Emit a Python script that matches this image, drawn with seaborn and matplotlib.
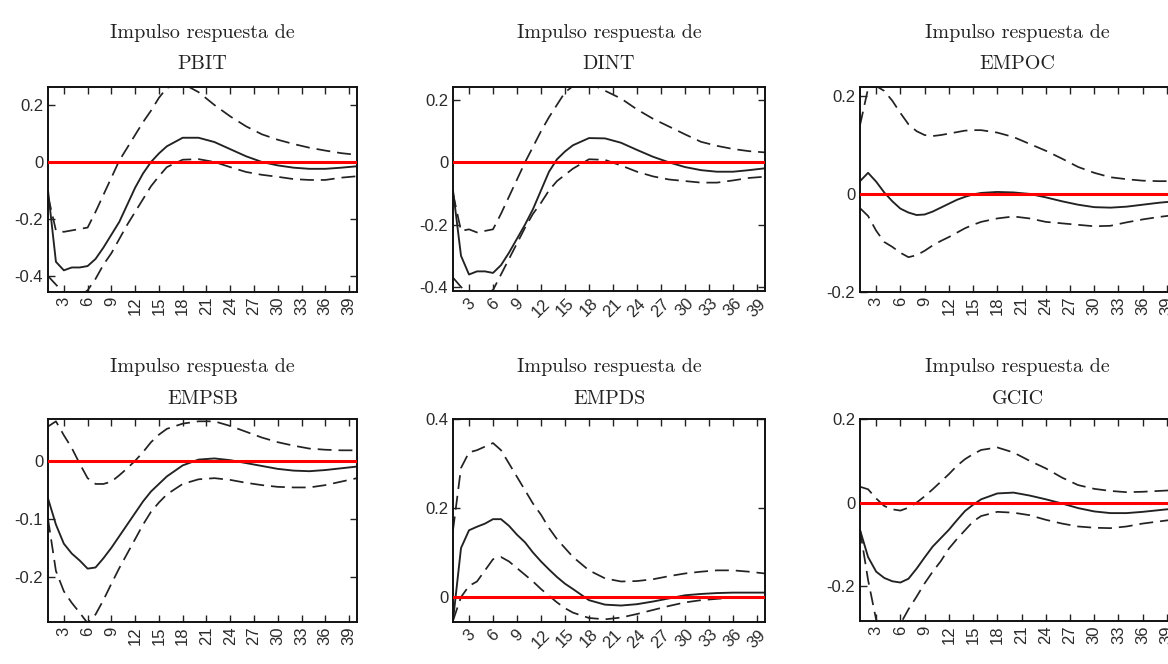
import matplotlib
matplotlib.use("Agg")
import matplotlib.pyplot as plt
import seaborn as sns
import pandas as pd

# ---------------- data ----------------
horizons = [1, 2, 3, 4, 5, 6, 7, 8, 9, 10, 11, 12, 13, 14, 15, 16,
            18, 20, 22, 24, 26, 28, 30, 32, 34, 36, 38, 40]

variables = ["PBIT", "DINT", "EMPOC", "EMPSB", "EMPDS", "GCIC"]

pbit_resp = [-0.10, -0.35, -0.38, -0.37, -0.37, -0.365, -0.34, -0.30, -0.255, -0.21, -0.15, -0.09, -0.04, 0.0,
             0.03, 0.055, 0.085, 0.085, 0.07, 0.045, 0.02, 0.0, -0.012, -0.02, -0.024, -0.024, -0.02, -0.015]
pbit_up = [-0.12, -0.24, -0.245, -0.24, -0.235, -0.23, -0.175, -0.115, -0.055, 0.005, 0.05, 0.095, 0.14, 0.18,
           0.225, 0.26, 0.275, 0.245, 0.20, 0.16, 0.125, 0.097, 0.078, 0.063, 0.05, 0.04, 0.031, 0.025]
pbit_lo = [-0.40, -0.43, -0.46, -0.47, -0.47, -0.45, -0.41, -0.36, -0.32, -0.27, -0.22, -0.175, -0.13, -0.085,
           -0.05, -0.018, 0.008, 0.01, 0.0, -0.018, -0.035, -0.045, -0.052, -0.06, -0.063, -0.063, -0.055, -0.05]

dint_resp = [-0.09, -0.30, -0.36, -0.35, -0.35, -0.355, -0.33, -0.29, -0.245, -0.20, -0.15, -0.09, -0.03, 0.01,
             0.035, 0.055, 0.078, 0.077, 0.063, 0.04, 0.018, 0.0, -0.015, -0.025, -0.03, -0.03, -0.025, -0.019]
dint_up = [-0.10, -0.22, -0.215, -0.225, -0.22, -0.215, -0.165, -0.11, -0.055, 0.0, 0.05, 0.10, 0.145, 0.185,
           0.225, 0.245, 0.255, 0.23, 0.205, 0.17, 0.14, 0.115, 0.09, 0.066, 0.053, 0.043, 0.036, 0.032]
dint_lo = [-0.37, -0.40, -0.42, -0.42, -0.42, -0.41, -0.36, -0.31, -0.26, -0.21, -0.165, -0.13, -0.09, -0.06,
           -0.04, -0.02, 0.01, 0.008, -0.01, -0.03, -0.045, -0.055, -0.06, -0.065, -0.065, -0.058, -0.05, -0.046]

empoc_resp = [0.026, 0.043, 0.025, 0.003, -0.015, -0.03, -0.038, -0.043, -0.042, -0.036, -0.028, -0.02, -0.012, -0.006,
              -0.001, 0.002, 0.004, 0.003, 0.0, -0.007, -0.015, -0.022, -0.027, -0.028, -0.026, -0.022, -0.018, -0.015]
empoc_up = [0.14, 0.215, 0.22, 0.21, 0.19, 0.165, 0.142, 0.128, 0.12, 0.118, 0.12, 0.123, 0.126, 0.129,
            0.13, 0.13, 0.125, 0.116, 0.102, 0.088, 0.072, 0.055, 0.043, 0.034, 0.03, 0.027, 0.026, 0.026]
empoc_lo = [-0.029, -0.045, -0.075, -0.098, -0.108, -0.12, -0.129, -0.125, -0.116, -0.105, -0.096, -0.088, -0.079, -0.07,
            -0.063, -0.057, -0.05, -0.046, -0.05, -0.057, -0.06, -0.063, -0.066, -0.065, -0.058, -0.052, -0.047, -0.043]

empsb_resp = [-0.065, -0.11, -0.143, -0.16, -0.172, -0.186, -0.184, -0.168, -0.15, -0.13, -0.11, -0.09, -0.07, -0.053,
              -0.04, -0.027, -0.008, 0.002, 0.004, 0.001, -0.004, -0.009, -0.014, -0.017, -0.018, -0.016, -0.013, -0.01]
empsb_up = [0.059, 0.068, 0.044, 0.022, -0.005, -0.03, -0.04, -0.04, -0.036, -0.025, -0.013, 0.0, 0.015, 0.032,
            0.045, 0.055, 0.064, 0.068, 0.068, 0.06, 0.05, 0.04, 0.032, 0.026, 0.021, 0.019, 0.018, 0.018]
empsb_lo = [-0.10, -0.19, -0.225, -0.245, -0.262, -0.28, -0.265, -0.24, -0.212, -0.185, -0.16, -0.135, -0.11, -0.088,
            -0.072, -0.058, -0.04, -0.032, -0.03, -0.033, -0.038, -0.042, -0.045, -0.046, -0.046, -0.042, -0.036, -0.03]

empds_resp = [-0.053, 0.11, 0.15, 0.158, 0.165, 0.175, 0.175, 0.16, 0.14, 0.123, 0.10, 0.08, 0.062, 0.045,
              0.03, 0.018, -0.007, -0.017, -0.019, -0.016, -0.01, -0.003, 0.004, 0.007, 0.009, 0.01, 0.01, 0.01]
empds_up = [0.15, 0.29, 0.325, 0.33, 0.338, 0.346, 0.33, 0.30, 0.27, 0.24, 0.21, 0.185, 0.155, 0.13,
            0.11, 0.09, 0.06, 0.042, 0.035, 0.036, 0.04, 0.047, 0.053, 0.057, 0.06, 0.06, 0.057, 0.053]
empds_lo = [-0.053, 0.0, 0.025, 0.035, 0.06, 0.085, 0.09, 0.08, 0.065, 0.05, 0.035, 0.018, 0.003, -0.012,
            -0.025, -0.035, -0.047, -0.05, -0.046, -0.038, -0.029, -0.02, -0.012, -0.007, -0.004, -0.001, 0.0, 0.0]

gcic_resp = [-0.065, -0.13, -0.165, -0.18, -0.188, -0.191, -0.182, -0.158, -0.131, -0.105, -0.085, -0.065, -0.042, -0.02,
             -0.005, 0.008, 0.022, 0.024, 0.017, 0.008, -0.002, -0.013, -0.021, -0.025, -0.025, -0.022, -0.018, -0.014]
gcic_up = [0.038, 0.032, 0.01, -0.008, -0.016, -0.019, -0.012, 0.0, 0.015, 0.032, 0.05, 0.068, 0.088, 0.104,
           0.116, 0.126, 0.132, 0.12, 0.10, 0.082, 0.06, 0.042, 0.033, 0.028, 0.025, 0.026, 0.028, 0.03]
gcic_lo = [-0.065, -0.185, -0.28, -0.30, -0.30, -0.29, -0.255, -0.225, -0.193, -0.165, -0.14, -0.11, -0.087, -0.066,
           -0.045, -0.032, -0.022, -0.024, -0.03, -0.041, -0.05, -0.057, -0.06, -0.061, -0.057, -0.05, -0.045, -0.04]

responses = [pbit_resp, dint_resp, empoc_resp, empsb_resp, empds_resp, gcic_resp]
uppers = [pbit_up, dint_up, empoc_up, empsb_up, empds_up, gcic_up]
lowers = [pbit_lo, dint_lo, empoc_lo, empsb_lo, empds_lo, gcic_lo]

x_ticks = [3, 6, 9, 12, 15, 18, 21, 24, 27, 30, 33, 36, 39]
x_tick_labels = [str(t) for t in x_ticks]

y_ticks = [[0.2, 0, -0.2, -0.4], [0.2, 0, -0.2, -0.4], [0.2, 0, -0.2],
           [0, -0.1, -0.2], [0.4, 0.2, 0], [0.2, 0, -0.2]]
y_tick_labels = [["0.2", "0", "-0.2", "-0.4"], ["0.2", "0", "-0.2", "-0.4"], ["0.2", "0", "-0.2"],
                 ["0", "-0.1", "-0.2"], ["0.4", "0.2", "0"], ["0.2", "0", "-0.2"]]
y_limits = [(-0.456, 0.263), (-0.413, 0.242), (-0.2, 0.218),
            (-0.278, 0.072), (-0.056, 0.4), (-0.283, 0.2)]

# ---------------- style ----------------
sns.set_style("ticks")
plt.rcParams["font.family"] = ["Liberation Sans", "DejaVu Sans"]
plt.rcParams["axes.unicode_minus"] = False

W, H = 1168, 664
fig = plt.figure(figsize=(W / 100, H / 100), dpi=100)

# axes boxes in pixels: (left, top, right, bottom)
boxes = [(48, 87, 357, 292), (453, 87, 765, 291), (860, 87, 1175, 292),
         (48, 419, 357, 622), (453, 419, 765, 622), (860, 419, 1175, 621)]

for i, var in enumerate(variables):
    l, t, r, b = boxes[i]
    ax = fig.add_axes([l / W, 1 - b / H, (r - l) / W, (b - t) / H])
    df = pd.DataFrame({"h": horizons, "resp": responses[i],
                       "up": uppers[i], "lo": lowers[i]})
    sns.lineplot(data=df, x="h", y="up", ax=ax, color="#222222", lw=1.25,
                 linestyle=(0, (8, 4)))
    sns.lineplot(data=df, x="h", y="lo", ax=ax, color="#222222", lw=1.25,
                 linestyle=(0, (8, 4)))
    sns.lineplot(data=df, x="h", y="resp", ax=ax, color="#222222", lw=1.35)
    ax.axhline(0, color="#ff0000", lw=2.2, zorder=5)

    ax.set_xlim(1, 40)
    ax.set_ylim(*y_limits[i])
    ax.set_xticks(x_ticks)
    rot = 45 if i % 3 == 1 else 90
    ax.set_xticklabels(x_tick_labels, rotation=rot, fontsize=12)
    ax.set_yticks(y_ticks[i])
    ax.set_yticklabels(y_tick_labels[i], fontsize=12)
    ax.set_xlabel("")
    ax.set_ylabel("")
    ax.tick_params(direction="in", top=True, right=True, length=5,
                   width=1.0, pad=3.5, color="#222222", labelcolor="#2a2a2a")
    for sp in ax.spines.values():
        sp.set_linewidth(1.4)
        sp.set_color("#111111")
        sp.set_visible(True)
    top_row = i < 3
    ax.set_title("Impulso respuesta de\n" + var, family="cmr10", fontsize=14.5,
                 linespacing=1.9 if top_row else 2.05,
                 pad=13.0 if top_row else 10.5, color="#222222")

fig.savefig("out.png", dpi=100)
